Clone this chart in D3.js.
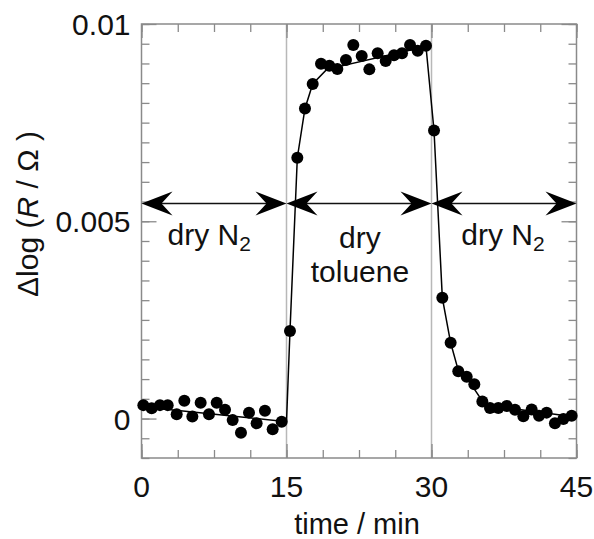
<!DOCTYPE html>
<html>
<head>
<meta charset="utf-8">
<script src="https://cdn.jsdelivr.net/npm/d3@7"></script>
<style>
  body { margin: 0; background: #fff; }
  text { font-family: "Liberation Sans", Arial, sans-serif; fill: #111; }
</style>
</head>
<body>
<div id="chart"></div>
<script>
// Measured points (time in min, value in Δlog units)
const times = [
  0.19, 1.05, 1.91, 2.71, 3.64, 4.43, 5.26, 6.12, 6.98, 7.78, 8.64, 9.43, 10.29, 11.12, 11.91, 12.77, 13.57, 14.50,
  15.36, 16.12, 16.91, 17.71, 18.57, 19.43, 20.26, 21.15, 21.91, 22.78, 23.57, 24.43, 25.26, 26.12, 26.95, 27.78, 28.57, 29.43,
  30.26, 31.12, 31.98, 32.77, 33.64, 34.43, 35.26, 36.05, 36.91, 37.78, 38.64, 39.50, 40.36, 41.12, 41.91, 42.77, 43.64, 44.50
];
const values = [
  0.00034, 0.00026, 0.00034, 0.00034, 0.00011, 0.00045, 0.00005, 0.00040, 0.00011, 0.00040, 0.00022, -0.00004, -0.00036, 0.00015, -0.00012, 0.00020, -0.00027, -0.00008,
  0.00222, 0.00661, 0.00786, 0.00848, 0.00899, 0.00894, 0.00886, 0.00909, 0.00947, 0.00919, 0.00885, 0.00926, 0.00906, 0.00921, 0.00926, 0.00947, 0.00932, 0.00945,
  0.00730, 0.00306, 0.00192, 0.00120, 0.00106, 0.00087, 0.00043, 0.00027, 0.00027, 0.00032, 0.00022, 0.00006, 0.00023, 0.00007, 0.00015, -0.00012, -0.00001, 0.00007
];

// Fitted guide line
const fitTime = [0, 15.0, 15.36, 16.12, 16.91, 17.71, 19.16, 29.43, 30.26, 31.12, 31.98, 32.77, 33.8, 35.3, 36.0, 44.5];
const fitValue = [0.00030, -0.00008, 0.00222, 0.00661, 0.00786, 0.00848, 0.00885, 0.00943, 0.00730, 0.00306, 0.00192, 0.00122, 0.00098, 0.00043, 0.00033, 0.00005];

// Gas phases
const phaseStart = [0, 15, 30];
const phaseEnd = [15, 30, 45];
const arrowLevel = 0.00545;

const xMajor = [0, 15, 30, 45];
const yMajor = [0, 0.005, 0.01];
const yTickLabels = ["0", "0.005", "0.01"];

const width = 594, height = 539;
const margin = { top: 24, right: 17.5, bottom: 81, left: 141.5 };

const svg = d3.select("#chart").append("svg")
  .attr("width", width)
  .attr("height", height);

const x = d3.scaleLinear().domain([0, 45]).range([margin.left, width - margin.right]);
const y = d3.scaleLinear().domain([-0.001, 0.01]).range([height - margin.bottom, margin.top]);

const tickColor = "#8a8a8a";

// Grey separators at phase changes
svg.append("g")
  .selectAll("line")
  .data([15, 30])
  .join("line")
  .attr("x1", d => x(d)).attr("x2", d => x(d))
  .attr("y1", y.range()[0]).attr("y2", y.range()[1])
  .attr("stroke", "#b8b8b8")
  .attr("stroke-width", 1.5);

// Inward ticks on all four sides
function addTicks(axis, transform, size, ticks) {
  const g = svg.append("g")
    .attr("transform", transform)
    .call(axis.tickValues(ticks).tickSize(size).tickFormat(""));
  g.select(".domain").remove();
  g.selectAll("line").attr("stroke", tickColor).attr("stroke-width", 1.3);
}
const xMinor = d3.range(0, 45.001, 3.75);
const yMinor = d3.range(-0.001, 0.01001, 0.0005);
const bottomY = y(-0.001), topY = y(0.01), leftX = x(0), rightX = x(45);

addTicks(d3.axisBottom(x), `translate(0,${bottomY})`, -8, xMinor);
addTicks(d3.axisBottom(x), `translate(0,${bottomY})`, -14, xMajor);
addTicks(d3.axisTop(x), `translate(0,${topY})`, -8, xMinor);
addTicks(d3.axisTop(x), `translate(0,${topY})`, -14, xMajor);
addTicks(d3.axisLeft(y), `translate(${leftX},0)`, -8, yMinor);
addTicks(d3.axisLeft(y), `translate(${leftX},0)`, -15, yMajor);
addTicks(d3.axisRight(y), `translate(${rightX},0)`, -8, yMinor);
addTicks(d3.axisRight(y), `translate(${rightX},0)`, -15, yMajor);

// Frame
svg.append("rect")
  .attr("x", leftX).attr("y", topY)
  .attr("width", rightX - leftX).attr("height", bottomY - topY)
  .attr("fill", "none")
  .attr("stroke", tickColor)
  .attr("stroke-width", 1.5);

// Tick labels
svg.append("g")
  .selectAll("text")
  .data(xMajor)
  .join("text")
  .attr("x", d => x(d))
  .attr("y", 497)
  .attr("text-anchor", "middle")
  .style("font-size", "30px")
  .text(d => d);

svg.append("g")
  .selectAll("text")
  .data(yMajor)
  .join("text")
  .attr("x", leftX - 11)
  .attr("y", d => y(d) + 11)
  .attr("text-anchor", "end")
  .style("font-size", "30px")
  .text((d, i) => yTickLabels[i]);

// Axis titles
svg.append("text")
  .attr("x", 357)
  .attr("y", 534)
  .attr("text-anchor", "middle")
  .style("font-size", "29px")
  .text("time / min");

const yLab = svg.append("text")
  .attr("transform", `translate(38, 214) rotate(-90)`)
  .attr("text-anchor", "middle")
  .style("font-size", "30px");
yLab.append("tspan").text("\u0394log (");
yLab.append("tspan").style("font-style", "italic").text("R");
yLab.append("tspan").text(" / \u03A9 )");

// Phase arrows
const arrowY = y(arrowLevel);
function headPath(tipX, dir) {
  const L = 31, W = 12, N = 20;
  return `M${tipX},${arrowY} L${tipX + dir * L},${arrowY - W} L${tipX + dir * N},${arrowY} L${tipX + dir * L},${arrowY + W} Z`;
}
const arrows = svg.append("g");
phaseStart.forEach((s, i) => {
  const x0 = x(s), x1 = x(phaseEnd[i]);
  arrows.append("line")
    .attr("x1", x0 + 10).attr("x2", x1 - 10)
    .attr("y1", arrowY).attr("y2", arrowY)
    .attr("stroke", "#111")
    .attr("stroke-width", 1.5);
  arrows.append("path").attr("d", headPath(x0, 1)).attr("fill", "#000");
  arrows.append("path").attr("d", headPath(x1, -1)).attr("fill", "#000");
});

// Fit line
const line = d3.line()
  .x((d, i) => x(fitTime[i]))
  .y(d => y(d));
svg.append("path")
  .datum(fitValue)
  .attr("d", line)
  .attr("fill", "none")
  .attr("stroke", "#000")
  .attr("stroke-width", 1.5);

// Data points
svg.append("g")
  .selectAll("circle")
  .data(values)
  .join("circle")
  .attr("cx", (d, i) => x(times[i]))
  .attr("cy", d => y(d))
  .attr("r", 6)
  .attr("fill", "#000");

// Phase labels
function n2Label(cx) {
  const t = svg.append("text")
    .attr("x", cx)
    .attr("y", 245)
    .attr("text-anchor", "middle")
    .style("font-size", "30px");
  t.append("tspan").text("dry N");
  t.append("tspan").attr("dy", 6).style("font-size", "21px").text("2");
}
n2Label(x(7.0));
n2Label(x(37.4));

svg.append("text")
  .attr("x", x(22.6)).attr("y", 248)
  .attr("text-anchor", "middle")
  .style("font-size", "30px")
  .text("dry");
svg.append("text")
  .attr("x", x(22.6)).attr("y", 282)
  .attr("text-anchor", "middle")
  .style("font-size", "30px")
  .text("toluene");
</script>
</body>
</html>
